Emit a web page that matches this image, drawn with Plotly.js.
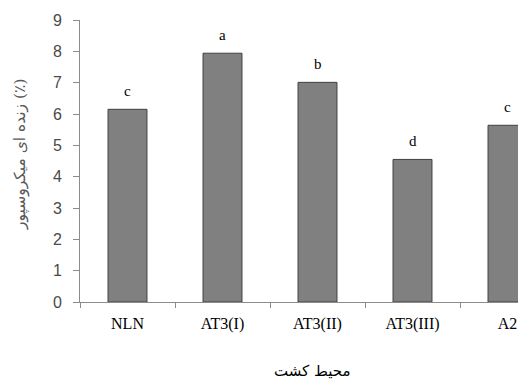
<!DOCTYPE html>
<html>
<head>
<meta charset="utf-8">
<script src="https://cdn.plot.ly/plotly-3.0.1.min.js"></script>
<style>
html,body{margin:0;padding:0;overflow:hidden;background:#fff;width:518px;height:381px;}
#chart{width:575px;height:381px;}
</style>
</head>
<body>
<div id="chart"></div>
<script>
const categories = ["NLN", "AT3(I)", "AT3(II)", "AT3(III)", "A2"];
const values = [6.15, 7.94, 7.01, 4.55, 5.64];
const letters = ["c", "a", "b", "d", "c"];
const yTicks = [0, 1, 2, 3, 4, 5, 6, 7, 8, 9];
const yTitle = "زنده ای میکروسپور (٪)";
const xTitle = "محیط کشت";

const trace = {
  type: "bar",
  x: categories,
  y: values,
  width: 0.41,
  marker: {color: "#808080", line: {color: "#404040", width: 1}},
  hoverinfo: "none"
};

const letterAnn = categories.map((c, i) => ({
  x: c, y: values[i], xref: "x", yref: "y",
  text: letters[i], showarrow: false, yanchor: "bottom", yshift: 8,
  font: {family: "Liberation Serif, serif", size: 15, color: "#000"}
}));

const layout = {
  width: 575, height: 381,
  margin: {l: 80, r: 20, t: 20, b: 79},
  paper_bgcolor: "#fff", plot_bgcolor: "#fff",
  showlegend: false,
  bargap: 0.59,
  xaxis: {
    type: "category", range: [-0.5, 4.5],
    showline: true, linecolor: "#8c8c8c", linewidth: 1,
    ticks: "outside", ticklen: 5, tickcolor: "#8c8c8c", tickson: "boundaries",
    showgrid: false, zeroline: false,
    tickfont: {family: "Liberation Serif, serif", size: 16, color: "#000"},
    ticklabelstandoff: 7, fixedrange: true
  },
  yaxis: {
    range: [0, 9], tickvals: yTicks,
    showline: true, linecolor: "#8c8c8c", linewidth: 1,
    ticks: "outside", ticklen: 6, tickcolor: "#8c8c8c",
    showgrid: false, zeroline: false,
    tickfont: {family: "Liberation Sans, Arial, sans-serif", size: 16, color: "#4a4a4a"},
    ticklabelstandoff: 8, fixedrange: true
  },
  annotations: letterAnn.concat([
    {xref: "paper", yref: "paper", x: (20 - 80) / 475, y: (302 - 155) / 282, xanchor: "center", yanchor: "middle",
     text: yTitle, textangle: -90, showarrow: false,
     font: {family: "DejaVu Serif, DejaVu Sans, serif", size: 15.5, color: "#595959"}},
    {xref: "paper", yref: "paper", x: (312 - 80) / 475, y: -69 / 282, xanchor: "center", yanchor: "middle",
     text: xTitle, showarrow: false,
     font: {family: "DejaVu Serif, DejaVu Sans, serif", size: 15, color: "#000"}}
  ])
};

Plotly.newPlot("chart", [trace], layout, {displayModeBar: false, staticPlot: true});
</script>
</body>
</html>
